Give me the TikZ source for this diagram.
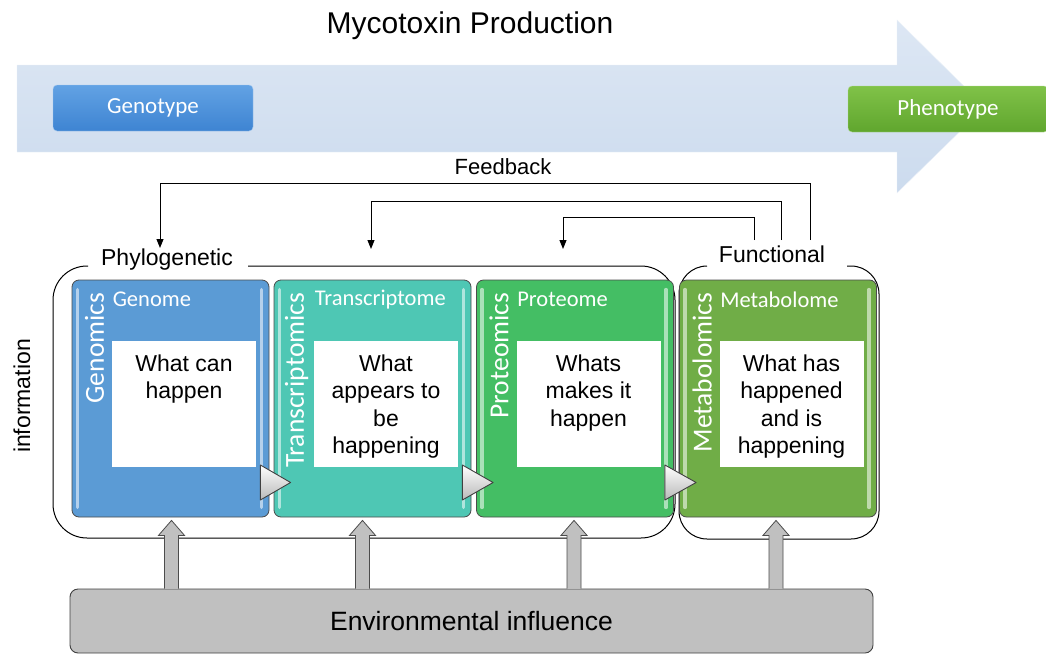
\documentclass[tikz,border=0pt]{standalone}
\usepackage{fontspec}
\setmainfont{Liberation Sans}
\newfontfamily\calibri{Carlito}
\usetikzlibrary{calc,arrows.meta}

\definecolor{genblue}{RGB}{91,155,213}
\definecolor{transteal}{RGB}{78,199,180}
\definecolor{protgreen}{RGB}{68,190,100}
\definecolor{metagreen}{RGB}{112,173,71}
\definecolor{envgray}{RGB}{192,192,192}
\definecolor{arrowtop}{RGB}{221,231,244}
\definecolor{arrowbot}{RGB}{204,219,238}
\definecolor{genotop}{RGB}{98,162,228}
\definecolor{genobot}{RGB}{62,132,210}
\definecolor{phenotop}{RGB}{128,194,72}
\definecolor{phenobot}{RGB}{96,166,46}

\newcommand{\boxtext}[1]{\parbox[c][126pt][t]{144pt}{\centering\vspace{14pt}#1}}

\begin{document}
\begin{tikzpicture}
  [x=1pt,y=-1pt,every node/.style={inner sep=0pt},
   panel/.style={draw=black!70,line width=0.8pt,rounded corners=7pt,minimum width=197pt,minimum height=237pt},
   gloss/.style={white,opacity=0.55,line width=3.5pt,line cap=round},
   sidelabel/.style={rotate=90,anchor=east,text=white,font=\calibri\fontsize{27.5}{30}\selectfont},
   headlabel/.style={anchor=west,text=white,font=\calibri\fontsize{22.5}{26}\selectfont},
   answer/.style={fill=white,font=\fontsize{23}{27.3}\selectfont},
   tag/.style={font=\fontsize{23}{27}\selectfont},
   stage/.style={rounded corners=4pt,minimum width=200pt,minimum height=46pt,text=white,font=\calibri\fontsize{23}{26}\selectfont},
   fb/.style={line width=1pt,-{Triangle[length=9pt,width=7pt]}},
   bracket/.style={line width=1pt,rounded corners=34pt},
   flowtri/.style={draw=black!75,line width=0.9pt,line join=round,top color=white,bottom color=gray!55},
   envarrow/.style={draw=black!70,line width=0.8pt,fill=envgray}]

  \useasboundingbox (0,0) rectangle (1046,653);

  % big process arrow
  \path[top color=arrowtop,bottom color=arrowbot,draw=white!40!arrowtop]
    (17,65) -- (897,65) -- (897,20) -- (985,107) -- (897,193) -- (897,152) -- (17,152) -- cycle;
  \node[font=\fontsize{30}{33}\selectfont] (title) at (470,26) {Mycotoxin Production};
  \node[stage,top color=genotop,bottom color=genobot,draw=genotop!60!white] (genotype) at (153,108) {Genotype};
  \node[stage,top color=phenotop,bottom color=phenobot,draw=phenotop!60!white] (phenotype) at (948,109) {Phenotype};

  % feedback
  \node[font=\fontsize{22}{26}\selectfont] (feedback) at (503,167) {Feedback};
  \coordinate (fbA) at (810,240);
  \coordinate (fbB) at (781,240);
  \coordinate (fbC) at (754,240);
  \coordinate (toA) at (160,248);
  \coordinate (toB) at (371,249);
  \coordinate (toC) at (563,249);
  \foreach \from/\to/\h in {fbA/toA/57,fbB/toB/39,fbC/toC/23}
    \draw[fb] (\from) -- ++(0,-\h) -| (\to);

  % brackets
  \node[tag] (phylo) at (167,260) {Phylogenetic};
  \node[tag] (functional) at (772,254) {Functional};
  \draw[bracket] (248,266) -| (675,538) -| (53,266) -- (88,266);
  \draw[bracket,rounded corners=28pt] (707,266) -| (679,539) -| (879,266) -- (847,266);
  \node[tag,rotate=90] (info) at (22,396) {information};

  % omics panels
  \foreach \nm/\x/\col/\side/\head in {genome/170.5/genblue/Genomics/Genome,
      transcriptome/372.5/transteal/Transcriptomics/Transcriptome,
      proteome/575/protgreen/Proteomics/Proteome,
      metabolome/778/metagreen/Metabolomics/Metabolome}
  {
    \node[panel,fill=\col] (\nm) at (\x,398.5) {};
    \draw[gloss] ($(\nm.north west)+(6,10)$) -- ($(\nm.south west)+(6,-10)$);
    \draw[gloss] ($(\nm.north east)+(-8,10)$) -- ($(\nm.south east)+(-8,-10)$);
    \node[sidelabel] at ($(\nm.north west)+(23,13)$) {\side};
    \node[headlabel] at ($(\nm.north west)+(41,20)$) {\head};
  }

  \node[answer] (genomeq) at ($(genome.center)+(13.5,5.5)$) {\boxtext{What can\\happen}};
  \node[answer] (transcriptomeq) at ($(transcriptome.center)+(13.5,5.5)$) {\boxtext{What\\appears to\\be\\happening}};
  \node[answer] (proteomeq) at ($(proteome.center)+(13.5,5.5)$) {\boxtext{Whats\\makes it\\happen}};
  \node[answer] (metabolomeq) at ($(metabolome.center)+(13.5,5.5)$) {\boxtext{What has\\happened\\and is\\happening}};

  \foreach \a/\b in {genome/transcriptome,transcriptome/proteome,proteome/metabolome}
    \draw[flowtri] ($(\a.east)+(-9,66.5)$) -- ($(\b.west)+(17,84)$) -- ($(\a.east)+(-9,101.5)$) -- cycle;

  % environment
  \node[draw=black!75,line width=0.9pt,fill=envgray,rounded corners=8pt,minimum width=803pt,minimum height=64pt,
        font=\fontsize{26.5}{30}\selectfont] (env) at (471.5,621) {Environmental influence};
  \foreach \nm/\dx in {genome/1,transcriptome/-10,proteome/-1,metabolome/-2}
    \draw[envarrow] ($(env.north -| \nm.south)+(\dx-7,0)$) -- ($(\nm.south)+(\dx-7,18)$)
      -- ($(\nm.south)+(\dx-13,18)$) -- ($(\nm.south)+(\dx,3)$) -- ($(\nm.south)+(\dx+13,18)$)
      -- ($(\nm.south)+(\dx+7,18)$) -- ($(env.north -| \nm.south)+(\dx+7,0)$);

\end{tikzpicture}
\end{document}
